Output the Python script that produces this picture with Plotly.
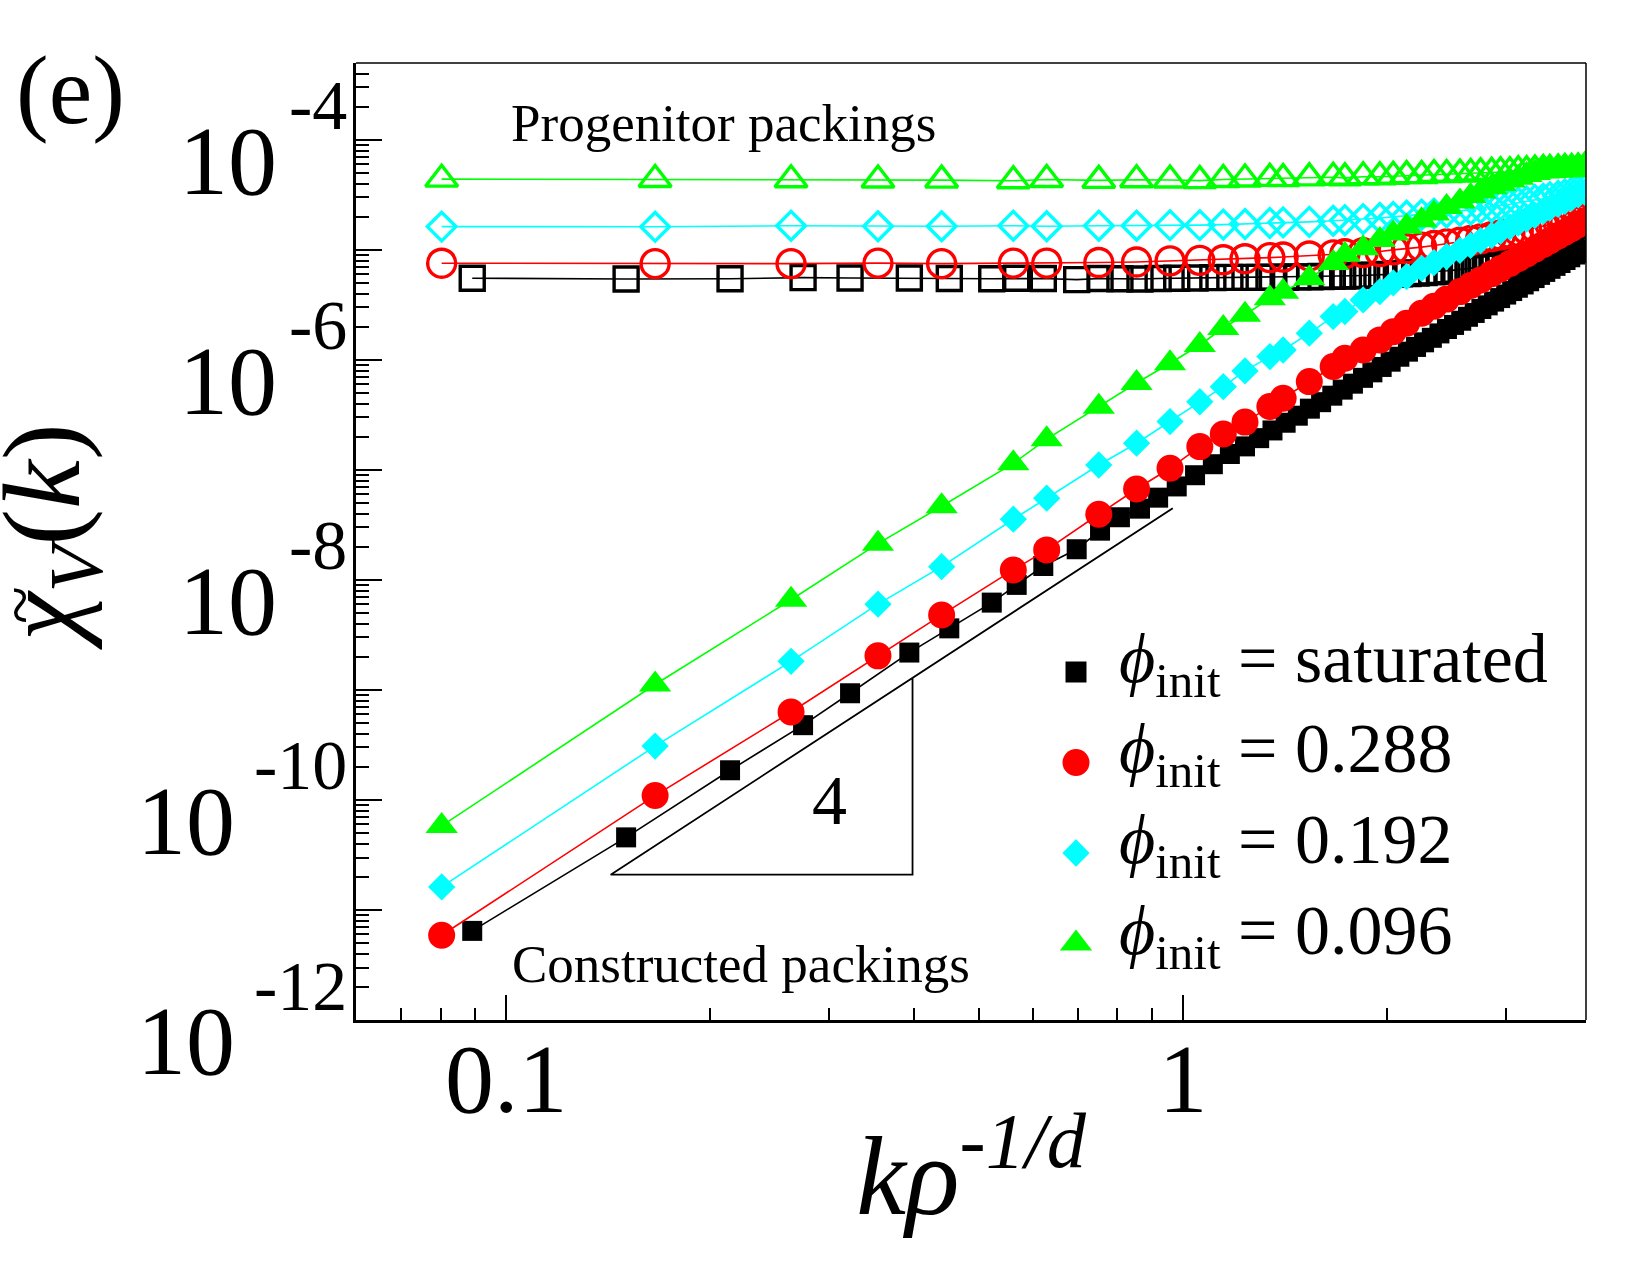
import math
import plotly.graph_objects as go

# ---------------- data ----------------
# k rho^{-1/d} values shared by the phi_init = 0.288, 0.192, 0.096 series
k_main = [0.0803, 0.166, 0.2636, 0.3543, 0.440, 0.5615, 0.629, 0.751, 0.854, 0.957,
          1.059, 1.147, 1.235, 1.344, 1.406, 1.537, 1.667, 1.735, 1.846, 1.954,
          2.045, 2.140, 2.252, 2.349, 2.452, 2.566, 2.661, 2.753, 2.858, 2.946,
          3.041, 3.129, 3.219, 3.311, 3.406, 3.484, 3.584, 3.667, 3.752, 3.836, 3.925]

# k rho^{-1/d} values of the saturated series
k_sat = [0.0891, 0.1504, 0.2142, 0.2746, 0.3222, 0.3942, 0.4516, 0.5218, 0.568, 0.6218,
         0.6966, 0.7542, 0.807, 0.864, 0.919, 0.979, 1.042, 1.107, 1.173, 1.235,
         1.296, 1.356, 1.418, 1.478, 1.540, 1.600, 1.662, 1.722, 1.783, 1.845,
         1.905, 1.966, 2.027, 2.088, 2.150, 2.210, 2.271, 2.332, 2.393, 2.455,
         2.515, 2.577, 2.637, 2.698, 2.760, 2.820, 2.882, 2.942, 3.003, 3.065,
         3.125, 3.187, 3.247, 3.308, 3.370, 3.430, 3.492, 3.552, 3.613, 3.675,
         3.735, 3.797, 3.857, 3.918]

# log10 of chi_V(k): constructed packings (filled symbols)
log_sat_constructed = [-11.19, -10.34, -9.73, -9.32, -9.03, -8.66, -8.44, -8.206, -8.045, -7.873,
                       -7.721, -7.552, -7.43, -7.352, -7.252, -7.15, -7.048, -6.948, -6.855, -6.786,
                       -6.711, -6.641, -6.571, -6.507, -6.443, -6.384, -6.325, -6.270, -6.216, -6.163,
                       -6.113, -6.064, -6.016, -5.971, -5.925, -5.882, -5.840, -5.799, -5.759, -5.719,
                       -5.682, -5.644, -5.608, -5.573, -5.537, -5.504, -5.470, -5.438, -5.406, -5.374,
                       -5.344, -5.314, -5.285, -5.256, -5.227, -5.200, -5.172, -5.145, -5.119, -5.092,
                       -5.067, -5.042, -5.017, -4.993]
log_288_constructed = [-11.23, -9.96, -9.20, -8.69, -8.318, -7.909, -7.727, -7.403, -7.173, -6.985,
                       -6.788, -6.673, -6.565, -6.424, -6.348, -6.197, -6.06, -5.985, -5.91, -5.818,
                       -5.743, -5.667, -5.576, -5.512, -5.447, -5.379, -5.324, -5.273, -5.216, -5.17,
                       -5.123, -5.08, -5.036, -4.994, -4.951, -4.917, -4.874, -4.84, -4.805, -4.772,
                       -4.737]
log_192_constructed = [-10.79, -9.51, -8.74, -8.22, -7.879, -7.448, -7.257, -6.955, -6.757, -6.56,
                       -6.38, -6.243, -6.10, -5.97, -5.91, -5.757, -5.606, -5.56, -5.455, -5.38,
                       -5.30, -5.243, -5.167, -5.115, -5.06, -5.004, -4.958, -4.915, -4.869, -4.83,
                       -4.79, -4.756, -4.72, -4.685, -4.65, -4.62, -4.586, -4.558, -4.53, -4.50,
                       -4.47]
log_096_constructed = [-10.236, -8.95, -8.18, -7.67, -7.33, -6.94, -6.72, -6.425, -6.21, -6.03,
                       -5.864, -5.71, -5.59, -5.44, -5.38, -5.257, -5.12, -5.045, -4.985, -4.91,
                       -4.85, -4.79, -4.73, -4.67, -4.61, -4.56, -4.51, -4.47, -4.43, -4.40,
                       -4.37, -4.345, -4.32, -4.30, -4.285, -4.27, -4.26, -4.25, -4.245, -4.24,
                       -4.23]

# log10 of chi_V(k): progenitor packings (open symbols)
log_sat_progenitor = [-5.257, -5.265, -5.262, -5.252, -5.255, -5.255, -5.26, -5.262, -5.258, -5.26,
                      -5.27, -5.26, -5.262, -5.265, -5.26, -5.258, -5.255, -5.252, -5.25, -5.25,
                      -5.25, -5.248, -5.248, -5.245, -5.245, -5.242, -5.24, -5.238, -5.235, -5.232,
                      -5.23, -5.226, -5.222, -5.218, -5.214, -5.21, -5.205, -5.20, -5.195, -5.19,
                      -5.184, -5.178, -5.172, -5.165, -5.158, -5.15, -5.142, -5.134, -5.125, -5.116,
                      -5.107, -5.097, -5.087, -5.076, -5.065, -5.054, -5.043, -5.032, -5.02, -5.01,
                      -5.00, -4.995, -4.99, -4.985]
log_288_progenitor = [-5.121, -5.125, -5.125, -5.12, -5.125, -5.12, -5.12, -5.115, -5.11, -5.10,
                      -5.095, -5.09, -5.08, -5.07, -5.065, -5.055, -5.045, -5.035, -5.025, -5.015,
                      -5.00, -4.99, -4.975, -4.96, -4.945, -4.93, -4.915, -4.90, -4.88, -4.865,
                      -4.85, -4.83, -4.815, -4.80, -4.78, -4.765, -4.75, -4.74, -4.73, -4.72,
                      -4.71]
log_192_progenitor = [-4.788, -4.79, -4.78, -4.785, -4.785, -4.78, -4.785, -4.78, -4.78, -4.775,
                      -4.775, -4.77, -4.765, -4.755, -4.75, -4.745, -4.735, -4.73, -4.72, -4.71,
                      -4.70, -4.69, -4.68, -4.67, -4.66, -4.645, -4.635, -4.62, -4.61, -4.595,
                      -4.585, -4.57, -4.56, -4.545, -4.535, -4.52, -4.51, -4.495, -4.48, -4.465,
                      -4.45]
log_096_progenitor = [-4.357, -4.36, -4.362, -4.365, -4.366, -4.372, -4.36, -4.368, -4.362, -4.365,
                      -4.37, -4.36, -4.355, -4.35, -4.352, -4.345, -4.34, -4.345, -4.335, -4.335,
                      -4.33, -4.325, -4.325, -4.315, -4.315, -4.31, -4.305, -4.30, -4.295, -4.29,
                      -4.29, -4.28, -4.28, -4.275, -4.27, -4.27, -4.265, -4.26, -4.26, -4.255,
                      -4.25]

legend_labels = ["saturated", "0.288", "0.192", "0.096"]

# slope-4 guide triangle (hypotenuse end, left corner, right corner, top corner)
guide_k = [0.966, 0.1427, 0.3985, 0.3985]
guide_log_chi = [-7.348, -10.679, -10.679, -8.895]

x_tick_vals = [0.1, 1]
x_tick_text = ["0.1", "1"]
y_label_exponents = [-4, -6, -8, -10, -12]

# ---------------- styling ----------------
FONT = "Liberation Serif"
BLACK, RED, CYAN, GREEN = "#000000", "#ff0000", "#00ffff", "#00ff00"

# plot-area geometry in pixels (for placing free text / legend)
W, H = 1650, 1275
L, R, T, B = 356, 64, 63, 255
PW, PH = W - L - R, H - T - B


def px(X):
    return (X - L) / PW


def py(Y):
    return (H - B - Y) / PH


def to_val(logs):
    return [10 ** v for v in logs]


fig = go.Figure()

series = [
    (k_sat, log_sat_progenitor, BLACK, "square-open", 24, 3.4),
    (k_sat, log_sat_constructed, BLACK, "square", 20, 0),
    (k_main, log_288_progenitor, RED, "circle-open", 28, 3.4),
    (k_main, log_288_constructed, RED, "circle", 27, 0),
    (k_main, log_192_progenitor, CYAN, "diamond-open", 22, 3.4),
    (k_main, log_192_constructed, CYAN, "diamond", 21, 0),
    (k_main, log_096_progenitor, GREEN, "triangle-up-open", 28, 3.4),
    (k_main, log_096_constructed, GREEN, "triangle-up", 28, 0),
]
for xs, ys, col, sym, size, lw in series:
    fig.add_trace(go.Scatter(
        x=xs, y=to_val(ys), mode="lines+markers", showlegend=False,
        line=dict(color=col, width=1.6),
        marker=dict(symbol=sym, size=size, color=col, line=dict(color=col, width=lw)),
    ))

# slope guide
fig.add_trace(go.Scatter(x=guide_k, y=to_val(guide_log_chi), mode="lines",
                         line=dict(color=BLACK, width=1.8), showlegend=False, hoverinfo="skip"))

# legend: symbols on an invisible overlay axis spanning the plot area, text as annotations
leg_style = [(BLACK, "square", 21), (RED, "circle", 27), (CYAN, "diamond", 21), (GREEN, "triangle-up", 28)]
leg_x, leg_y0, leg_dy = 1076, 672, 90.5
annotations = []
for i, (lab, (col, sym, size)) in enumerate(zip(legend_labels, leg_style)):
    yy = leg_y0 + i * leg_dy
    fig.add_trace(go.Scatter(
        x=[px(leg_x)], y=[py(yy)], xaxis="x2", yaxis="y2", mode="markers",
        marker=dict(symbol=sym, size=size, color=col), showlegend=False, hoverinfo="skip",
    ))
    annotations.append(dict(
        text="<i>ϕ</i><sub>init</sub> = " + lab, xref="paper", yref="paper",
        x=px(1117), y=py(yy - 8), xanchor="left", yanchor="middle", showarrow=False,
        font=dict(family=FONT, size=70, color=BLACK)))

# y tick labels 10^n with raised exponents
EXP_SIZE, BASE_SIZE = 70, 98
for e in y_label_exponents:
    exp_txt = str(e)
    n_digits = len(exp_txt) - 1
    base_right = 349 - 65 - 42 * (n_digits - 1) - 5
    annotations.append(dict(text=exp_txt, xref="paper", yref="y", x=px(349), y=e,
                            xanchor="right", yanchor="middle", yshift=34, showarrow=False,
                            font=dict(family=FONT, size=EXP_SIZE, color=BLACK)))
    annotations.append(dict(text="10", xref="paper", yref="y", x=px(base_right), y=e,
                            xanchor="right", yanchor="middle", yshift=-21, showarrow=False,
                            font=dict(family=FONT, size=BASE_SIZE, color=BLACK)))

annotations += [
    dict(text="Progenitor packings", xref="paper", yref="paper", x=px(723), y=py(123),
         xanchor="center", yanchor="middle", showarrow=False,
         font=dict(family=FONT, size=53, color=BLACK)),
    dict(text="Constructed packings", xref="paper", yref="paper", x=px(741), y=py(964),
         xanchor="center", yanchor="middle", showarrow=False,
         font=dict(family=FONT, size=53, color=BLACK)),
    dict(text="4", xref="paper", yref="paper", x=px(829), y=py(800),
         xanchor="center", yanchor="middle", showarrow=False,
         font=dict(family=FONT, size=70, color=BLACK)),
    dict(text="(e)", xref="paper", yref="paper", x=px(70), y=py(90),
         xanchor="center", yanchor="middle", showarrow=False,
         font=dict(family=FONT, size=98, color=BLACK)),
    # y-axis title chi_V(k) with its tilde accent
    dict(text="<i>χ</i><sub><i>V</i></sub>(<i>k</i>)", xref="paper", yref="paper",
         x=px(50), y=py(537), xanchor="center", yanchor="middle", textangle=-90,
         showarrow=False, font=dict(family=FONT, size=110, color=BLACK)),
    dict(text="~", xref="paper", yref="paper",
         x=px(19), y=py(605), xanchor="center", yanchor="middle", textangle=-90,
         showarrow=False, font=dict(family=FONT, size=70, color=BLACK)),
]

x_minor = [0.06, 0.07, 0.08, 0.09, 0.2, 0.3, 0.4, 0.5, 0.6, 0.7, 0.8, 0.9, 2, 3]
y_major = [10.0 ** n for n in range(-12, -3)]
y_minor = [m * 10.0 ** n for n in range(-12, -3) for m in range(2, 10) if m * 10.0 ** n <= 5e-4]

fig.update_layout(
    width=W, height=H,
    margin=dict(l=L, r=R, t=T, b=B, autoexpand=False),
    paper_bgcolor="white", plot_bgcolor="white",
    font=dict(family=FONT, color=BLACK),
    showlegend=False,
    annotations=annotations,
    shapes=[
        dict(type="line", xref="paper", yref="paper", x0=0, x1=1, y0=1, y1=1,
             line=dict(color=BLACK, width=1.5)),
        dict(type="line", xref="paper", yref="paper", x0=1, x1=1, y0=0, y1=1,
             line=dict(color=BLACK, width=1.5)),
    ],
    xaxis=dict(
        type="log", range=[math.log10(0.06), math.log10(3.94)],
        showline=True, linecolor=BLACK, linewidth=2.5, mirror=False,
        showgrid=False, zeroline=False,
        ticks="inside", ticklen=25, tickwidth=2, tickcolor=BLACK,
        tickmode="array", tickvals=x_tick_vals, ticktext=x_tick_text,
        tickfont=dict(family=FONT, size=98, color=BLACK), ticklabelstandoff=-28,
        minor=dict(ticks="inside", ticklen=12, tickwidth=2, tickcolor=BLACK,
                   tickmode="array", tickvals=x_minor, showgrid=False),
        title=dict(text="<i>kρ</i><sup><i>-1/d</i></sup>",
                   font=dict(family=FONT, size=112, color=BLACK), standoff=4),
    ),
    yaxis=dict(
        type="log", range=[-12, math.log10(5e-4)],
        showline=True, linecolor=BLACK, linewidth=2.5, mirror=False,
        showgrid=False, zeroline=False,
        ticks="inside", ticklen=26, tickwidth=2, tickcolor=BLACK,
        tickmode="array", tickvals=y_major, showticklabels=False,
        minor=dict(ticks="inside", ticklen=13, tickwidth=2, tickcolor=BLACK,
                   tickmode="array", tickvals=y_minor, showgrid=False),
    ),
    xaxis2=dict(overlaying="x", range=[0, 1], visible=False, fixedrange=True),
    yaxis2=dict(overlaying="y", range=[0, 1], visible=False, fixedrange=True),
)

fig.write_html("out.html")
